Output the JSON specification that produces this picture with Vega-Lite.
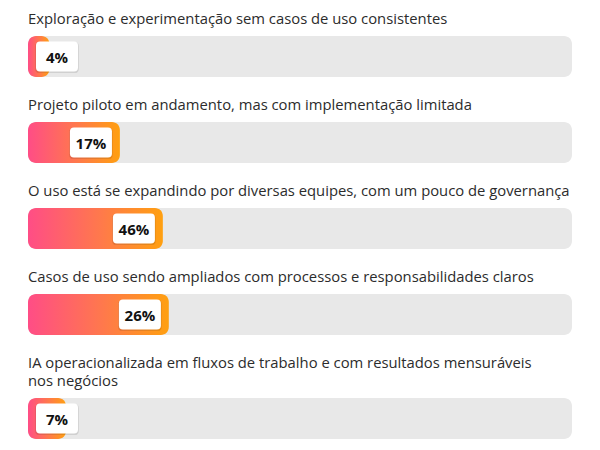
{
  "$schema": "https://vega.github.io/schema/vega-lite/v6.json",
  "padding": {"top": 12, "left": 28, "right": 0, "bottom": 0},
  "background": "white",
  "config": {"view": {"stroke": null}, "concat": {"spacing": 21}},
  "data": {"values": [
    {"id": 1, "question": "Exploração e experimentação sem casos de uso consistentes", "pct": 0.04, "barShown": 0.0395},
    {"id": 2, "question": "Projeto piloto em andamento, mas com implementação limitada", "pct": 0.17, "barShown": 0.169},
    {"id": 3, "question": "O uso está se expandindo por diversas equipes, com um pouco de governança", "pct": 0.46, "barShown": 0.248},
    {"id": 4, "question": "Casos de uso sendo ampliados com processos e responsabilidades claros", "pct": 0.26, "barShown": 0.259},
    {"id": 5, "question": "IA operacionalizada em fluxos de trabalho e com resultados mensuráveis\nnos negócios", "pct": 0.07, "barShown": 0.07}
  ]},
  "transform": [{"calculate": "max(datum.barShown, 0.1066)", "as": "labelAnchor"}],
  "vconcat": [
    {"transform": [{"filter": "datum.id == 1"}], "width": 544, "height": 41,
     "encoding": {"y": {"field": "id", "type": "nominal", "axis": null, "scale": {"paddingInner": 0, "paddingOuter": 0}}},
     "layer": [
      {"mark": {"type": "bar", "color": "#e8e8e8", "cornerRadius": 8}, "encoding": {"x": {"datum": 0, "type": "quantitative", "scale": {"domain": [0, 1], "nice": false}, "axis": null}, "x2": {"datum": 1}}},
      {"mark": {"type": "bar", "cornerRadius": 8, "color": {"gradient": "linear", "x1": 0, "x2": 1, "y1": 0, "y2": 0, "stops": [{"offset": 0, "color": "#ff4d86"}, {"offset": 0.55, "color": "#ff7a4a"}, {"offset": 1, "color": "#ffa010"}]}}, "encoding": {"x": {"field": "barShown", "type": "quantitative"}}},
      {"mark": {"type": "point", "filled": true, "color": "#000000", "opacity": 0.1, "shape": "M-0.81,-0.714 L0.81,-0.714 Q1,-0.714 1,-0.524 L1,0.524 Q1,0.714 0.81,0.714 L-0.81,0.714 Q-1,0.714 -1,0.524 L-1,-0.524 Q-1,-0.714 -0.81,-0.714 Z", "size": 1900, "xOffset": -29, "yOffset": 1}, "encoding": {"x": {"field": "labelAnchor", "type": "quantitative"}}},
      {"mark": {"type": "point", "filled": true, "color": "white", "opacity": 1, "shape": "M-0.81,-0.714 L0.81,-0.714 Q1,-0.714 1,-0.524 L1,0.524 Q1,0.714 0.81,0.714 L-0.81,0.714 Q-1,0.714 -1,0.524 L-1,-0.524 Q-1,-0.714 -0.81,-0.714 Z", "size": 1764, "xOffset": -29}, "encoding": {"x": {"field": "labelAnchor", "type": "quantitative"}}},
      {"mark": {"type": "text", "font": "Open Sans", "fontWeight": "bold", "fontSize": 15, "color": "#111111", "align": "center", "baseline": "middle", "xOffset": -29, "dy": 1}, "encoding": {"x": {"field": "labelAnchor", "type": "quantitative"}, "text": {"field": "pct", "type": "quantitative", "format": ".0%"}}},
      {"mark": {"type": "text", "font": "Open Sans", "fontSize": 14.8, "color": "#2c2c2c", "align": "left", "baseline": "alphabetic", "lineBreak": "\n", "lineHeight": 18, "dy": -12}, "encoding": {"x": {"value": 0}, "y": {"field": "id", "type": "nominal", "bandPosition": 0}, "text": {"field": "question"}}}
     ]},
    {"transform": [{"filter": "datum.id == 2"}], "width": 544, "height": 41,
     "encoding": {"y": {"field": "id", "type": "nominal", "axis": null, "scale": {"paddingInner": 0, "paddingOuter": 0}}},
     "layer": [
      {"mark": {"type": "bar", "color": "#e8e8e8", "cornerRadius": 8}, "encoding": {"x": {"datum": 0, "type": "quantitative", "scale": {"domain": [0, 1], "nice": false}, "axis": null}, "x2": {"datum": 1}}},
      {"mark": {"type": "bar", "cornerRadius": 8, "color": {"gradient": "linear", "x1": 0, "x2": 1, "y1": 0, "y2": 0, "stops": [{"offset": 0, "color": "#ff4d86"}, {"offset": 0.55, "color": "#ff7a4a"}, {"offset": 1, "color": "#ffa010"}]}}, "encoding": {"x": {"field": "barShown", "type": "quantitative"}}},
      {"mark": {"type": "point", "filled": true, "color": "#000000", "opacity": 0.1, "shape": "M-0.81,-0.714 L0.81,-0.714 Q1,-0.714 1,-0.524 L1,0.524 Q1,0.714 0.81,0.714 L-0.81,0.714 Q-1,0.714 -1,0.524 L-1,-0.524 Q-1,-0.714 -0.81,-0.714 Z", "size": 1900, "xOffset": -29, "yOffset": 1}, "encoding": {"x": {"field": "labelAnchor", "type": "quantitative"}}},
      {"mark": {"type": "point", "filled": true, "color": "white", "opacity": 1, "shape": "M-0.81,-0.714 L0.81,-0.714 Q1,-0.714 1,-0.524 L1,0.524 Q1,0.714 0.81,0.714 L-0.81,0.714 Q-1,0.714 -1,0.524 L-1,-0.524 Q-1,-0.714 -0.81,-0.714 Z", "size": 1764, "xOffset": -29}, "encoding": {"x": {"field": "labelAnchor", "type": "quantitative"}}},
      {"mark": {"type": "text", "font": "Open Sans", "fontWeight": "bold", "fontSize": 15, "color": "#111111", "align": "center", "baseline": "middle", "xOffset": -29, "dy": 1}, "encoding": {"x": {"field": "labelAnchor", "type": "quantitative"}, "text": {"field": "pct", "type": "quantitative", "format": ".0%"}}},
      {"mark": {"type": "text", "font": "Open Sans", "fontSize": 14.8, "color": "#2c2c2c", "align": "left", "baseline": "alphabetic", "lineBreak": "\n", "lineHeight": 18, "dy": -12}, "encoding": {"x": {"value": 0}, "y": {"field": "id", "type": "nominal", "bandPosition": 0}, "text": {"field": "question"}}}
     ]},
    {"transform": [{"filter": "datum.id == 3"}], "width": 544, "height": 41,
     "encoding": {"y": {"field": "id", "type": "nominal", "axis": null, "scale": {"paddingInner": 0, "paddingOuter": 0}}},
     "layer": [
      {"mark": {"type": "bar", "color": "#e8e8e8", "cornerRadius": 8}, "encoding": {"x": {"datum": 0, "type": "quantitative", "scale": {"domain": [0, 1], "nice": false}, "axis": null}, "x2": {"datum": 1}}},
      {"mark": {"type": "bar", "cornerRadius": 8, "color": {"gradient": "linear", "x1": 0, "x2": 1, "y1": 0, "y2": 0, "stops": [{"offset": 0, "color": "#ff4d86"}, {"offset": 0.55, "color": "#ff7a4a"}, {"offset": 1, "color": "#ffa010"}]}}, "encoding": {"x": {"field": "barShown", "type": "quantitative"}}},
      {"mark": {"type": "point", "filled": true, "color": "#000000", "opacity": 0.1, "shape": "M-0.81,-0.714 L0.81,-0.714 Q1,-0.714 1,-0.524 L1,0.524 Q1,0.714 0.81,0.714 L-0.81,0.714 Q-1,0.714 -1,0.524 L-1,-0.524 Q-1,-0.714 -0.81,-0.714 Z", "size": 1900, "xOffset": -29, "yOffset": 1}, "encoding": {"x": {"field": "labelAnchor", "type": "quantitative"}}},
      {"mark": {"type": "point", "filled": true, "color": "white", "opacity": 1, "shape": "M-0.81,-0.714 L0.81,-0.714 Q1,-0.714 1,-0.524 L1,0.524 Q1,0.714 0.81,0.714 L-0.81,0.714 Q-1,0.714 -1,0.524 L-1,-0.524 Q-1,-0.714 -0.81,-0.714 Z", "size": 1764, "xOffset": -29}, "encoding": {"x": {"field": "labelAnchor", "type": "quantitative"}}},
      {"mark": {"type": "text", "font": "Open Sans", "fontWeight": "bold", "fontSize": 15, "color": "#111111", "align": "center", "baseline": "middle", "xOffset": -29, "dy": 1}, "encoding": {"x": {"field": "labelAnchor", "type": "quantitative"}, "text": {"field": "pct", "type": "quantitative", "format": ".0%"}}},
      {"mark": {"type": "text", "font": "Open Sans", "fontSize": 14.8, "color": "#2c2c2c", "align": "left", "baseline": "alphabetic", "lineBreak": "\n", "lineHeight": 18, "dy": -12}, "encoding": {"x": {"value": 0}, "y": {"field": "id", "type": "nominal", "bandPosition": 0}, "text": {"field": "question"}}}
     ]},
    {"transform": [{"filter": "datum.id == 4"}], "width": 544, "height": 41,
     "encoding": {"y": {"field": "id", "type": "nominal", "axis": null, "scale": {"paddingInner": 0, "paddingOuter": 0}}},
     "layer": [
      {"mark": {"type": "bar", "color": "#e8e8e8", "cornerRadius": 8}, "encoding": {"x": {"datum": 0, "type": "quantitative", "scale": {"domain": [0, 1], "nice": false}, "axis": null}, "x2": {"datum": 1}}},
      {"mark": {"type": "bar", "cornerRadius": 8, "color": {"gradient": "linear", "x1": 0, "x2": 1, "y1": 0, "y2": 0, "stops": [{"offset": 0, "color": "#ff4d86"}, {"offset": 0.55, "color": "#ff7a4a"}, {"offset": 1, "color": "#ffa010"}]}}, "encoding": {"x": {"field": "barShown", "type": "quantitative"}}},
      {"mark": {"type": "point", "filled": true, "color": "#000000", "opacity": 0.1, "shape": "M-0.81,-0.714 L0.81,-0.714 Q1,-0.714 1,-0.524 L1,0.524 Q1,0.714 0.81,0.714 L-0.81,0.714 Q-1,0.714 -1,0.524 L-1,-0.524 Q-1,-0.714 -0.81,-0.714 Z", "size": 1900, "xOffset": -29, "yOffset": 1}, "encoding": {"x": {"field": "labelAnchor", "type": "quantitative"}}},
      {"mark": {"type": "point", "filled": true, "color": "white", "opacity": 1, "shape": "M-0.81,-0.714 L0.81,-0.714 Q1,-0.714 1,-0.524 L1,0.524 Q1,0.714 0.81,0.714 L-0.81,0.714 Q-1,0.714 -1,0.524 L-1,-0.524 Q-1,-0.714 -0.81,-0.714 Z", "size": 1764, "xOffset": -29}, "encoding": {"x": {"field": "labelAnchor", "type": "quantitative"}}},
      {"mark": {"type": "text", "font": "Open Sans", "fontWeight": "bold", "fontSize": 15, "color": "#111111", "align": "center", "baseline": "middle", "xOffset": -29, "dy": 1}, "encoding": {"x": {"field": "labelAnchor", "type": "quantitative"}, "text": {"field": "pct", "type": "quantitative", "format": ".0%"}}},
      {"mark": {"type": "text", "font": "Open Sans", "fontSize": 14.8, "color": "#2c2c2c", "align": "left", "baseline": "alphabetic", "lineBreak": "\n", "lineHeight": 18, "dy": -12}, "encoding": {"x": {"value": 0}, "y": {"field": "id", "type": "nominal", "bandPosition": 0}, "text": {"field": "question"}}}
     ]},
    {"transform": [{"filter": "datum.id == 5"}], "width": 544, "height": 41,
     "encoding": {"y": {"field": "id", "type": "nominal", "axis": null, "scale": {"paddingInner": 0, "paddingOuter": 0}}},
     "layer": [
      {"mark": {"type": "bar", "color": "#e8e8e8", "cornerRadius": 8}, "encoding": {"x": {"datum": 0, "type": "quantitative", "scale": {"domain": [0, 1], "nice": false}, "axis": null}, "x2": {"datum": 1}}},
      {"mark": {"type": "bar", "cornerRadius": 8, "color": {"gradient": "linear", "x1": 0, "x2": 1, "y1": 0, "y2": 0, "stops": [{"offset": 0, "color": "#ff4d86"}, {"offset": 0.55, "color": "#ff7a4a"}, {"offset": 1, "color": "#ffa010"}]}}, "encoding": {"x": {"field": "barShown", "type": "quantitative"}}},
      {"mark": {"type": "point", "filled": true, "color": "#000000", "opacity": 0.1, "shape": "M-0.81,-0.714 L0.81,-0.714 Q1,-0.714 1,-0.524 L1,0.524 Q1,0.714 0.81,0.714 L-0.81,0.714 Q-1,0.714 -1,0.524 L-1,-0.524 Q-1,-0.714 -0.81,-0.714 Z", "size": 1900, "xOffset": -29, "yOffset": 1}, "encoding": {"x": {"field": "labelAnchor", "type": "quantitative"}}},
      {"mark": {"type": "point", "filled": true, "color": "white", "opacity": 1, "shape": "M-0.81,-0.714 L0.81,-0.714 Q1,-0.714 1,-0.524 L1,0.524 Q1,0.714 0.81,0.714 L-0.81,0.714 Q-1,0.714 -1,0.524 L-1,-0.524 Q-1,-0.714 -0.81,-0.714 Z", "size": 1764, "xOffset": -29}, "encoding": {"x": {"field": "labelAnchor", "type": "quantitative"}}},
      {"mark": {"type": "text", "font": "Open Sans", "fontWeight": "bold", "fontSize": 15, "color": "#111111", "align": "center", "baseline": "middle", "xOffset": -29, "dy": 1}, "encoding": {"x": {"field": "labelAnchor", "type": "quantitative"}, "text": {"field": "pct", "type": "quantitative", "format": ".0%"}}},
      {"mark": {"type": "text", "font": "Open Sans", "fontSize": 14.8, "color": "#2c2c2c", "align": "left", "baseline": "alphabetic", "lineBreak": "\n", "lineHeight": 18, "dy": -30}, "encoding": {"x": {"value": 0}, "y": {"field": "id", "type": "nominal", "bandPosition": 0}, "text": {"field": "question"}}}
     ]}
  ]
}
